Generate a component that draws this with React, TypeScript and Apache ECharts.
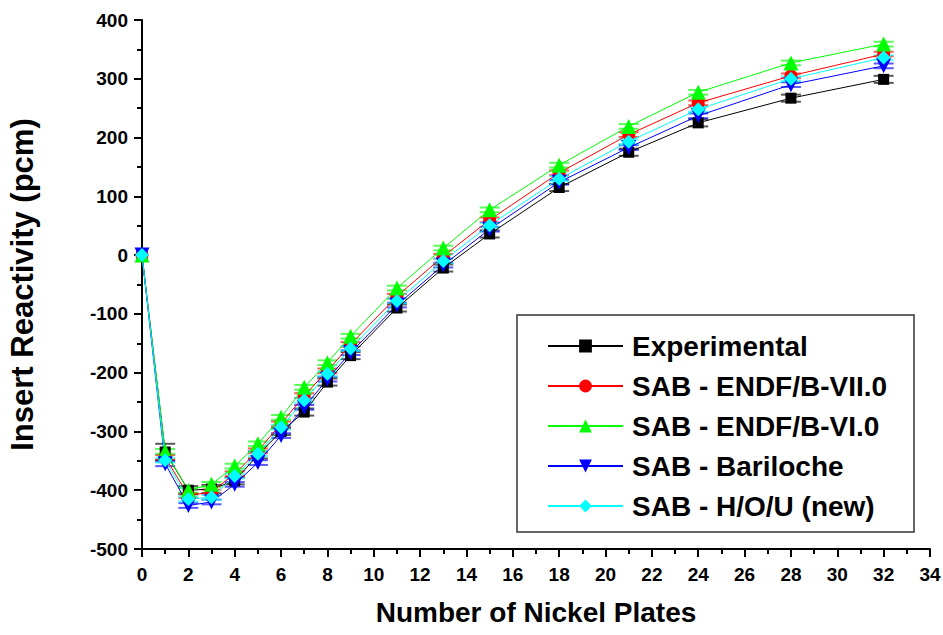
import React, { useEffect, useRef } from "react";
import * as echarts from "echarts";

const plates = [0, 1, 2, 3, 4, 5, 6, 7, 8, 9, 11, 13, 15, 18, 21, 24, 28, 32];
const experimental = [0, -335, -400, -398, -384, -340, -300, -267, -216, -171, -90, -22, 36, 115, 175, 225, 267, 299];
const endf7 = [0, -344, -409, -403, -372, -333, -287, -239, -197, -152, -70, -2, 60, 140, 205, 259, 305, 342];
const endf6 = [0, -334, -400, -390, -359, -321, -276, -225, -183, -138, -56, 12, 77, 153, 219, 277, 327, 359];
const bariloche = [0, -355, -426, -420, -390, -353, -307, -259, -211, -166, -85, -17, 44, 124, 183, 237, 290, 322];
const hou = [0, -349, -415, -412, -376, -338, -293, -247, -202, -159, -78, -10, 51, 130, 193, 248, 300, 336];
const expErr = [0, 14, 7, 7, 6, 6, 6, 6, 6, 6, 6, 6, 6, 6, 6, 6, 6, 6];
const calcErr = [0, 4, 4, 4, 4, 4, 4, 4, 4, 4, 4, 4, 4, 4, 4, 4, 4, 4];

const seriesDefs = [
  { name: "Experimental", values: experimental, err: expErr, color: "#000000", symbol: "rect", size: 11 },
  { name: "SAB - ENDF/B-VII.0", values: endf7, err: calcErr, color: "#ff0000", symbol: "circle", size: 13 },
  { name: "SAB - ENDF/B-VI.0", values: endf6, err: calcErr, color: "#00ff00", symbol: "triangle", size: 15 },
  { name: "SAB - Bariloche", values: bariloche, err: calcErr, color: "#0000ff", symbol: "path://M0,0 L10,0 L5,10 Z", size: 15 },
  { name: "SAB - H/O/U (new)", values: hou, err: calcErr, color: "#00ffff", symbol: "diamond", size: 14 },
];

export default function App() {
  const ref = useRef<HTMLDivElement>(null);
  useEffect(() => {
    if (!ref.current) return;
    const chart = echarts.init(ref.current, null, { renderer: "svg" });
    const font = "Liberation Sans, Arial, sans-serif";
    const series: any[] = [];
    seriesDefs.forEach((s) => {
      series.push({
        type: "custom",
        name: s.name + "_err",
        data: plates.map((x, i) => [x, s.values[i], s.err[i]]),
        encode: { x: 0, y: 1 },
        silent: true,
        renderItem: (params: any, api: any) => {
          const x = api.value(0);
          const y = api.value(1);
          const e = api.value(2);
          if (!e) return null;
          const top = api.coord([x, y + e]);
          const bot = api.coord([x, y - e]);
          const hw = 10;
          const st = { stroke: s.color, lineWidth: 2, opacity: 0.65 };
          return {
            type: "group",
            children: [
              { type: "line", shape: { x1: top[0], y1: top[1], x2: bot[0], y2: bot[1] }, style: { stroke: s.color, lineWidth: 1, opacity: 0.6 } },
              { type: "line", shape: { x1: top[0] - hw, y1: top[1], x2: top[0] + hw, y2: top[1] }, style: st },
              { type: "line", shape: { x1: bot[0] - hw, y1: bot[1], x2: bot[0] + hw, y2: bot[1] }, style: st },
            ],
          };
        },
      });
      series.push({
        type: "line",
        name: s.name,
        data: plates.map((x, i) => [x, s.values[i]]),
        symbol: s.symbol,
        symbolSize: s.size,
        showAllSymbol: true,
        itemStyle: { color: s.color, borderWidth: 0 },
        lineStyle: { color: s.color, width: 1 },
      });
    });

    chart.setOption({
      animation: false,
      backgroundColor: "#ffffff",
      grid: { left: 142, right: 13, top: 20, bottom: 86, containLabel: false, outerBoundsMode: "none" },
      legend: {
        orient: "vertical",
        left: 542,
        top: 327,
        z: 10,
        data: seriesDefs.map((s) => s.name),
        itemWidth: 75,
        itemHeight: 16,
        itemGap: 12,
        textStyle: { fontFamily: font, fontWeight: "bold", fontSize: 28, color: "#000", lineHeight: 24, padding: [0, 0, 0, 4] },
      },
      xAxis: {
        type: "value",
        min: 0,
        max: 34,
        interval: 2,
        name: "Number of Nickel Plates",
        nameLocation: "middle",
        nameGap: 49,
        nameTextStyle: { fontFamily: font, fontWeight: "bold", fontSize: 28, color: "#000" },
        axisLine: { onZero: false, lineStyle: { color: "#000", width: 2 } },
        axisTick: { show: true, length: 8, lineStyle: { color: "#000", width: 2 } },
        minorTick: { show: true, splitNumber: 2, length: 5, lineStyle: { color: "#000", width: 2 } },
        axisLabel: { fontFamily: font, fontWeight: "bold", fontSize: 19, color: "#000", margin: 16 },
        splitLine: { show: false },
      },
      yAxis: {
        type: "value",
        min: -500,
        max: 400,
        interval: 100,
        name: "Insert Reactivity (pcm)",
        nameLocation: "middle",
        nameGap: 104,
        nameTextStyle: { fontFamily: font, fontWeight: "bold", fontSize: 31, color: "#000" },
        axisLine: { show: true, onZero: false, lineStyle: { color: "#000", width: 2 } },
        axisTick: { show: true, length: 8, lineStyle: { color: "#000", width: 2 } },
        minorTick: { show: true, splitNumber: 2, length: 5, lineStyle: { color: "#000", width: 2 } },
        axisLabel: { fontFamily: font, fontWeight: "bold", fontSize: 19, color: "#000", margin: 14 },
        splitLine: { show: false },
      },
      graphic: [
        {
          type: "rect",
          shape: { x: 517, y: 315, width: 397, height: 217 },
          style: { fill: "#ffffff", stroke: "#333333", lineWidth: 1.5 },
          z: 3,
        },
      ],
      series,
    });
    return () => chart.dispose();
  }, []);
  return <div ref={ref} style={{ width: 943, height: 635, position: "absolute", left: 0, top: 0 }} />;
}
